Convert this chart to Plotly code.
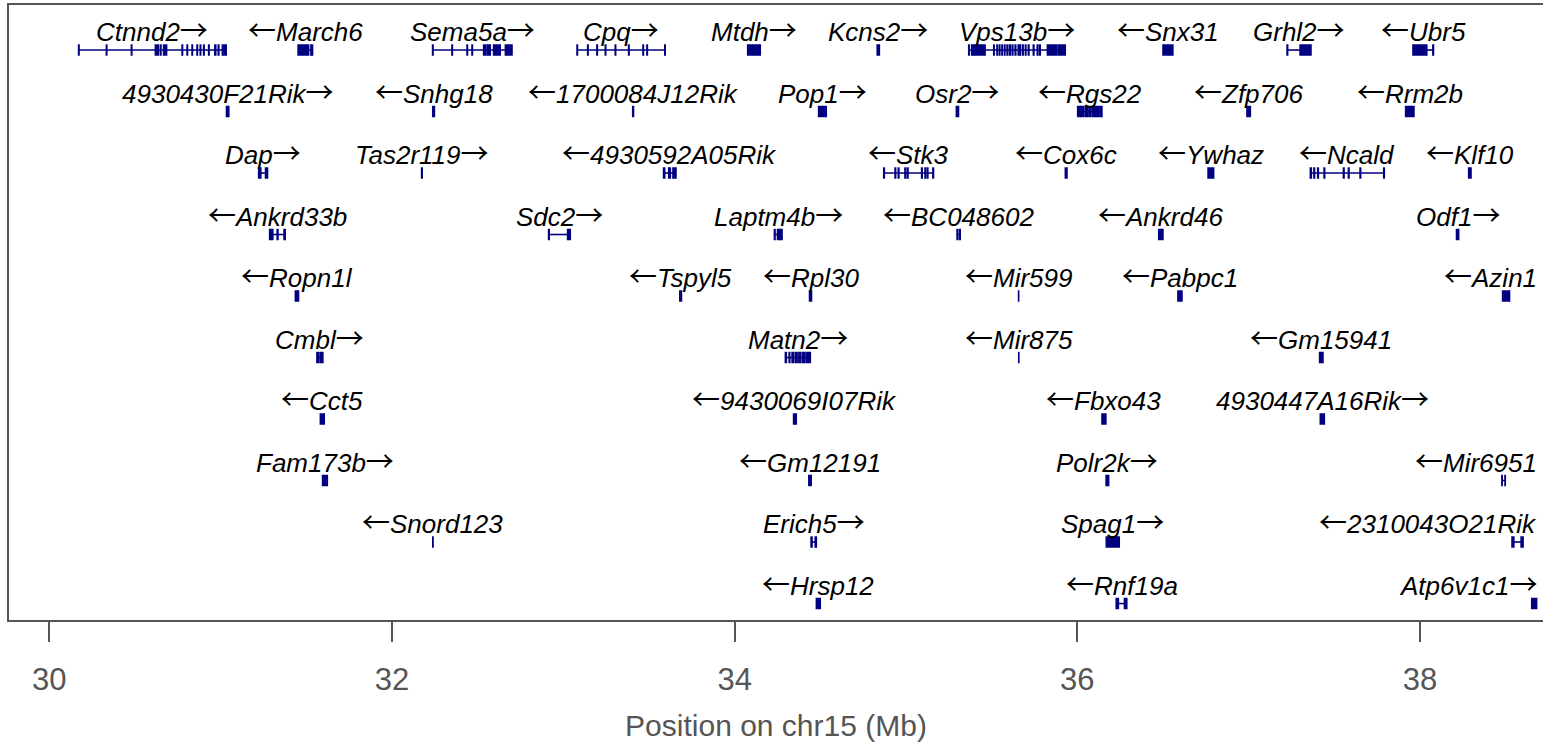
import plotly.graph_objects as go

# ---------------- data ----------------
gene_names = ["Ctnnd2", "March6", "Sema5a", "Cpq", "Mtdh", "Kcns2", "Vps13b", "Snx31", "Grhl2", "Ubr5",
              "4930430F21Rik", "Snhg18", "1700084J12Rik", "Pop1", "Osr2", "Rgs22", "Zfp706", "Rrm2b",
              "Dap", "Tas2r119", "4930592A05Rik", "Stk3", "Cox6c", "Ywhaz", "Ncald", "Klf10",
              "Ankrd33b", "Sdc2", "Laptm4b", "BC048602", "Ankrd46", "Odf1",
              "Ropn1l", "Tspyl5", "Rpl30", "Mir599", "Pabpc1", "Azin1",
              "Cmbl", "Matn2", "Mir875", "Gm15941",
              "Cct5", "9430069I07Rik", "Fbxo43", "4930447A16Rik",
              "Fam173b", "Gm12191", "Polr2k", "Mir6951",
              "Snord123", "Erich5", "Spag1", "2310043O21Rik",
              "Hrsp12", "Rnf19a", "Atp6v1c1"]
gene_strand = ["+", "-", "+", "+", "+", "+", "+", "-", "+", "-",
               "+", "-", "-", "+", "+", "-", "-", "-",
               "+", "+", "-", "-", "-", "-", "-", "-",
               "-", "+", "+", "-", "-", "+",
               "-", "-", "-", "-", "-", "-",
               "+", "+", "-", "-",
               "-", "-", "-", "+",
               "+", "-", "+", "-",
               "-", "+", "+", "-",
               "-", "-", "+"]
gene_row = [1]*10 + [2]*8 + [3]*8 + [4]*6 + [5]*6 + [6]*4 + [7]*4 + [8]*4 + [9]*4 + [10]*3
gene_start = [30.171, 31.452, 32.237, 33.080, 34.076, 34.831, 35.366, 36.500, 37.224, 37.959,
              31.034, 32.238, 33.405, 34.490, 35.294, 36.002, 36.990, 37.916,
              31.222, 32.173, 33.585, 34.870, 35.930, 36.763, 37.360, 38.284,
              31.286, 32.914, 34.232, 35.298, 36.475, 38.213,
              31.436, 33.680, 34.437, 35.657, 36.587, 38.482,
              31.562, 34.296, 35.658, 37.414,
              31.582, 34.344, 36.144, 37.418,
              31.595, 34.433, 36.168, 38.478,
              32.238, 34.446, 36.169, 38.537,
              34.477, 36.227, 38.652]
gene_end = [31.033, 31.537, 32.701, 33.595, 34.150, 34.846, 35.930, 36.558, 37.364, 38.079,
            31.048, 32.248, 33.410, 34.535, 35.307, 36.144, 37.010, 37.965,
            31.274, 32.177, 33.658, 35.161, 35.940, 36.796, 37.792, 38.298,
            31.377, 33.041, 34.277, 35.317, 36.500, 38.226,
            31.455, 33.690, 34.449, 35.658, 36.611, 38.523,
            31.597, 34.442, 35.659, 37.434,
            31.605, 34.360, 36.167, 37.442,
            31.623, 34.447, 36.183, 38.498,
            32.240, 34.477, 36.245, 38.602,
            34.500, 36.289, 38.681]
# exons: list of [start, end] pairs per gene (Mb)
gene_exons = [
    [[30.171, 30.174], [30.333, 30.336], [30.479, 30.482], [30.619, 30.624], [30.632, 30.636], [30.648, 30.652],
     [30.667, 30.671], [30.680, 30.685], [30.775, 30.778], [30.804, 30.807], [30.833, 30.836], [30.862, 30.865],
     [30.881, 30.884], [30.901, 30.904], [30.930, 30.933], [30.966, 30.972], [30.986, 30.990], [31.010, 31.015],
     [31.022, 31.033]],
    [[31.452, 31.514], [31.527, 31.530], [31.534, 31.537]],
    [[32.237, 32.240], [32.350, 32.353], [32.438, 32.441], [32.467, 32.470], [32.535, 32.548], [32.556, 32.574],
     [32.593, 32.610], [32.618, 32.632], [32.662, 32.680], [32.688, 32.701]],
    [[33.080, 33.083], [33.142, 33.145], [33.196, 33.199], [33.245, 33.248], [33.303, 33.306], [33.381, 33.384],
     [33.465, 33.468], [33.488, 33.491], [33.592, 33.595]],
    [[34.076, 34.085], [34.092, 34.100], [34.106, 34.118], [34.124, 34.150]],
    [[34.832, 34.845]],
    [[35.366, 35.369], [35.383, 35.400], [35.405, 35.430], [35.435, 35.462], [35.512, 35.515], [35.531, 35.534],
     [35.545, 35.548], [35.560, 35.563], [35.575, 35.578], [35.590, 35.594], [35.605, 35.609], [35.620, 35.624],
     [35.637, 35.641], [35.655, 35.668], [35.680, 35.684], [35.697, 35.700], [35.714, 35.718], [35.743, 35.747],
     [35.766, 35.770], [35.780, 35.784], [35.825, 35.848], [35.856, 35.880], [35.888, 35.930]],
    [[36.500, 36.558]],
    [[37.224, 37.228], [37.300, 37.318], [37.324, 37.340], [37.346, 37.364]],
    [[37.959, 38.030], [38.036, 38.040], [38.075, 38.079]],
    [[31.034, 31.048]],
    [[32.238, 32.248]],
    [[33.405, 33.410]],
    [[34.490, 34.535]],
    [[35.294, 35.307]],
    [[36.002, 36.015], [36.020, 36.035], [36.045, 36.060], [36.068, 36.080], [36.090, 36.105], [36.112, 36.125],
     [36.132, 36.144]],
    [[36.990, 37.010]],
    [[37.916, 37.965]],
    [[31.222, 31.235], [31.262, 31.274]],
    [[32.173, 32.177]],
    [[33.585, 33.592], [33.615, 33.625], [33.640, 33.658]],
    [[34.870, 34.874], [34.936, 34.940], [34.955, 34.959], [34.994, 34.998], [35.008, 35.012], [35.091, 35.095],
     [35.111, 35.115], [35.124, 35.128], [35.157, 35.161]],
    [[35.930, 35.940]],
    [[36.763, 36.796]],
    [[37.360, 37.366], [37.381, 37.385], [37.403, 37.407], [37.440, 37.444], [37.553, 37.557], [37.582, 37.586],
     [37.650, 37.654], [37.788, 37.792]],
    [[38.284, 38.298]],
    [[31.286, 31.305], [31.330, 31.335], [31.370, 31.377]],
    [[32.914, 32.918], [33.025, 33.041]],
    [[34.232, 34.236], [34.250, 34.262], [34.266, 34.277]],
    [[35.298, 35.302], [35.312, 35.317]],
    [[36.475, 36.500]],
    [[38.213, 38.226]],
    [[31.436, 31.455]],
    [[33.680, 33.690]],
    [[34.437, 34.449]],
    [[35.657, 35.658]],
    [[36.587, 36.611]],
    [[38.482, 38.523]],
    [[31.562, 31.570], [31.580, 31.597]],
    [[34.296, 34.302], [34.318, 34.322], [34.335, 34.345], [34.355, 34.365], [34.375, 34.385], [34.395, 34.410],
     [34.418, 34.442]],
    [[35.658, 35.659]],
    [[37.414, 37.434]],
    [[31.582, 31.605]],
    [[34.344, 34.360]],
    [[36.144, 36.167]],
    [[37.418, 37.442]],
    [[31.595, 31.623]],
    [[34.433, 34.447]],
    [[36.168, 36.183]],
    [[38.478, 38.480], [38.496, 38.498]],
    [[32.238, 32.240]],
    [[34.446, 34.452], [34.470, 34.477]],
    [[36.169, 36.245]],
    [[38.537, 38.548], [38.590, 38.602]],
    [[34.477, 34.500]],
    [[36.227, 36.240], [36.275, 36.289]],
    [[38.652, 38.681]],
]

x_ticks = [30, 32, 34, 36, 38]
x_title = "Position on chr15 (Mb)"

# ---------------- styling ----------------
XMIN, XMAX = 29.765, 38.718
YTOP, YBOT = 0.268, 10.268
GENE_COLOR = "#000080"
AXIS_GRAY = "#555555"
FONT = "Liberation Sans, Arial, Helvetica, sans-serif"
LABEL_SIZE = 26
EXON_HALF = 0.081
PLOT_W = 1543 - 9
PX_PER_MB = PLOT_W / (XMAX - XMIN)
ARROW_SPAN = '<span style="font-family:Noto Sans CJK JP;font-size:28px;font-style:normal">{}</span>'


def text_width_px(s, size):
    w = 0.0
    for ch in s:
        if ch in "\u2190\u2192":
            w += 1.07
        elif ch in "iljI":
            w += 0.24
        elif ch in "tfr":
            w += 0.31
        elif ch in "mwMW":
            w += 0.85
        elif ch.isdigit():
            w += 0.556
        elif ch.isupper():
            w += 0.68
        else:
            w += 0.54
    return w * size


fig = go.Figure()

# intron / gene body lines
lx, ly = [], []
for s, e, r in zip(gene_start, gene_end, gene_row):
    lx += [s, e, None]
    ly += [r, r, None]
fig.add_trace(go.Scatter(x=lx, y=ly, mode="lines",
                         line=dict(color=GENE_COLOR, width=1.6),
                         hoverinfo="skip", showlegend=False))

shapes = []
annotations = []
for name, strand, r, s, e, exons in zip(gene_names, gene_strand, gene_row,
                                        gene_start, gene_end, gene_exons):
    for ex0, ex1 in exons:
        shapes.append(dict(type="rect", xref="x", yref="y",
                           x0=ex0, x1=ex1, y0=r - EXON_HALF, y1=r + EXON_HALF,
                           fillcolor=GENE_COLOR, line=dict(color=GENE_COLOR, width=1.5)))
    if strand == "+":
        plain = name + "\u2192"
        text = "<i>" + name + "</i>" + ARROW_SPAN.format("\u2192")
    else:
        plain = "\u2190" + name
        text = ARROW_SPAN.format("\u2190") + "<i>" + name + "</i>"
    mid = (s + e) / 2
    half_w = text_width_px(plain, LABEL_SIZE) / 2 / PX_PER_MB
    if mid + half_w > XMAX - 4 / PX_PER_MB:
        ax, anchor, xs = XMAX, "right", -4
    else:
        ax, anchor, xs = mid, "center", 0
    annotations.append(dict(x=ax, y=r, xref="x", yref="y", text=text,
                            showarrow=False, xanchor=anchor, yanchor="middle",
                            xshift=xs, yshift=21,
                            font=dict(family=FONT, size=LABEL_SIZE, color="black")))

fig.update_layout(
    width=1543, height=742,
    margin=dict(l=9, r=0, t=5, b=122),
    paper_bgcolor="white", plot_bgcolor="white",
    shapes=shapes, annotations=annotations,
    font=dict(family=FONT),
    showlegend=False,
)
fig.update_xaxes(range=[XMIN, XMAX], tickvals=x_ticks, ticktext=[str(t) for t in x_ticks],
                 ticks="outside", ticklen=20, tickwidth=2, tickcolor=AXIS_GRAY,
                 tickfont=dict(family=FONT, size=31, color=AXIS_GRAY), ticklabelstandoff=11,
                 showline=True, linecolor=AXIS_GRAY, linewidth=2, mirror=True,
                 showgrid=False, zeroline=False,
                 title=dict(text=x_title, font=dict(family=FONT, size=30, color=AXIS_GRAY), standoff=20))
fig.update_yaxes(range=[YBOT, YTOP], showticklabels=False, ticks="",
                 showline=True, linecolor=AXIS_GRAY, linewidth=2, mirror=False,
                 showgrid=False, zeroline=False)

fig.write_html("out.html", config={"displayModeBar": False},
               post_script="document.body.style.margin='0';document.body.style.overflow='hidden';")
